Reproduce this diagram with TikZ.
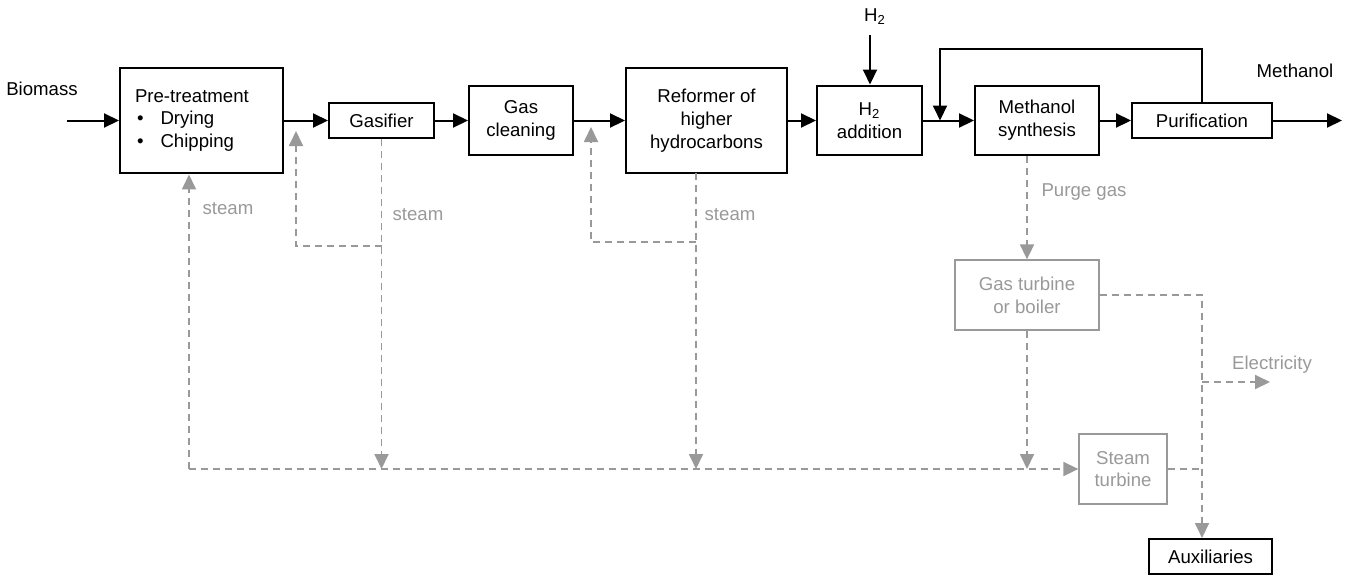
\documentclass[tikz,border=0pt]{standalone}
\usepackage{fontspec}
\setmainfont{Liberation Sans}
\usetikzlibrary{arrows.meta}
\definecolor{steamgray}{HTML}{999999}
\tikzset{
  txt/.style={font=\fontsize{10.6}{13}\selectfont,inner sep=0pt},
  box/.style={txt,draw,line width=0.04cm,align=center},
  graybox/.style={txt,draw=steamgray,text=steamgray,line width=0.027cm,align=center},
  flow/.style={line width=0.04cm,-{Triangle[length=0.3cm,width=0.28cm]}},
  steam/.style={steamgray,line width=0.036cm,dash pattern=on 0.14cm off 0.1cm,
    -{Triangle[length=0.3cm,width=0.28cm]}},
  steamline/.style={steam,-},
  graytxt/.style={txt,text=steamgray}
}
\begin{document}
\begin{tikzpicture}[x=0.02cm,y=-0.02cm]
\useasboundingbox (0,0) rectangle (1354,575);
% main chain
\node[box,text width=2.66cm,inner xsep=0.3cm,minimum height=2.12cm,align=left] (pre) at (201.5,120.5)
  {Pre-treatment\\\hspace*{0.04cm}\textbullet\hspace{0.34cm}Drying\\\hspace*{0.04cm}\textbullet\hspace{0.34cm}Chipping};
\node[box,minimum width=2.1cm,minimum height=0.7cm] (gas) at (381.5,120.5) {Gasifier};
\node[box,minimum width=2.08cm,minimum height=1.4cm] (clean) at (521,120.5) {Gas\\cleaning};
\node[box,minimum width=3.22cm,minimum height=2.1cm] (ref) at (706.5,120.5) {Reformer of\\higher\\hydrocarbons};
\node[box,minimum width=2.1cm,minimum height=1.4cm] (h2add) at (869.5,120.5) {H\textsubscript{2}\\addition};
\node[box,minimum width=2.48cm,minimum height=1.4cm] (synth) at (1037,120.5) {Methanol\\synthesis};
\node[box,minimum width=2.8cm,minimum height=0.7cm] (purif) at (1202,120.5) {Purification};
% labels
\node[txt] (biomass) at (42,89) {Biomass};
\node[txt] (h2) at (875,17) {H\textsubscript{2}};
\node[txt] (meoh) at (1295,71) {Methanol};
\coordinate (bin) at (67,120.5);
\coordinate (h2in) at (870,35);
\coordinate (mix) at (940,120.5);
\coordinate (out) at (1342,120.5);
\draw[flow] (bin) -- (pre);
\draw[flow] (pre.east |- gas.west) -- (gas.west);
\draw[flow] (gas) -- (clean);
\draw[flow] (clean) -- (ref);
\draw[flow] (ref) -- (h2add);
\draw[flow] (h2in) -- (h2add.north -| h2in);
\draw[flow] (h2add) -- (synth);
\draw[flow] (synth) -- (purif);
\draw[flow] (purif.east) -- (out);
\draw[flow] (purif.north) -- ++(0,-53) -| (mix);
% steam and power side
\node[graybox,minimum width=2.88cm,minimum height=1.4cm] (gasturb) at (1027,295) {Gas turbine\\or boiler};
\node[graybox,minimum width=1.76cm,minimum height=1.4cm] (steamturb) at (1123,469) {Steam\\turbine};
\node[box,line width=0.034cm,minimum width=2.46cm,minimum height=0.7cm] (aux) at (1210.5,556.5) {Auxiliaries};
\node[graytxt] (st1) at (228,209) {steam};
\node[graytxt] (st2) at (418,215) {steam};
\node[graytxt] (st3) at (730,215) {steam};
\node[graytxt] (purge) at (1084,192) {Purge gas};
\node[graytxt] (elec) at (1272,365) {Electricity};
\coordinate (corner) at (189,469);
\coordinate (gasloop) at (296,131);
\coordinate (refsteam) at (696,173);
\coordinate (refloop) at (591,127);
\coordinate (auxin) at (1202,538);
\coordinate (elecout) at (1270,382);
\draw[steam] (corner) -- (corner |- pre.south);
\draw[steam] (corner) -- (steamturb.west);
\draw[steam] (gas.south) -- (gas.south |- corner);
\draw[steam] (gas.south |- 0,246) -| (gasloop);
\draw[steam] (refsteam) -- (refsteam |- corner);
\draw[steam] (refsteam |- 0,242) -| (refloop);
\draw[steam] (gasturb.north |- synth.south) -- (gasturb.north);
\draw[steam] (gasturb.south) -- (gasturb.south |- corner);
\draw[steam] (gasturb.east) -| (auxin);
\draw[steamline] (steamturb.east) -- (steamturb.east -| auxin);
\draw[steam] (auxin |- elecout) -- (elecout);
\end{tikzpicture}
\end{document}
